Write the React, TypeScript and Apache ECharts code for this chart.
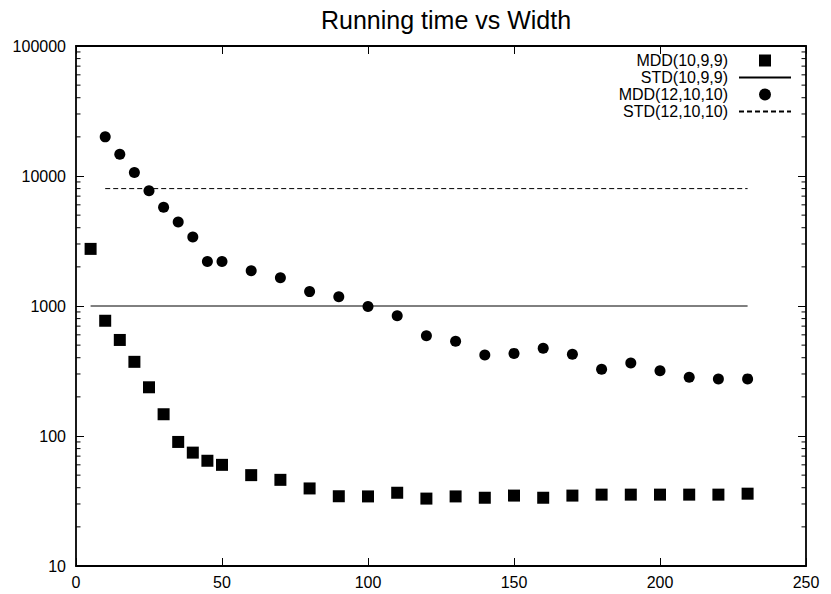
import React, { useEffect, useRef } from "react";
import * as echarts from "echarts";

// ---- data ----
const widthsA = [5, 10, 15, 20, 25, 30, 35, 40, 45, 50, 60, 70, 80, 90, 100, 110, 120, 130, 140, 150, 160, 170, 180, 190, 200, 210, 220, 230];
const mdd10_9_9 = [2750, 770, 548, 372, 237, 147, 90, 74.5, 64.5, 60, 50, 46, 39.5, 34.4, 34.3, 36.6, 33, 34.3, 33.5, 34.8, 33.5, 34.8, 35.4, 35.4, 35.4, 35.4, 35.4, 36];

const widthsB = [10, 15, 20, 25, 30, 35, 40, 45, 50, 60, 70, 80, 90, 100, 110, 120, 130, 140, 150, 160, 170, 180, 190, 200, 210, 220, 230];
const mdd12_10_10 = [20000, 14700, 10650, 7700, 5750, 4430, 3400, 2200, 2200, 1870, 1650, 1290, 1180, 990, 840, 590, 535, 420, 432, 473, 425, 326, 364, 318, 283, 274, 275];

const std10Range = [5, 230];
const std10Value = 1000;
const std12Range = [10, 230];
const std12Value = 8000;

const xTickLabels = ["0", "50", "100", "150", "200", "250"];
const yTickLabels = ["10", "100", "1000", "10000", "100000"];

const seriesNames = ["MDD(10,9,9)", "STD(10,9,9)", "MDD(12,10,10)", "STD(12,10,10)"];
const titleText = "Running time vs Width";

const FONT = '"Liberation Sans", Arial, Helvetica, sans-serif';

export default function App() {
  const ref = useRef<HTMLDivElement>(null);

  useEffect(() => {
    if (!ref.current) return;
    const chart = echarts.init(ref.current, undefined, { renderer: "svg" });

    const xMin = Number(xTickLabels[0]);
    const xMax = Number(xTickLabels[xTickLabels.length - 1]);
    const yMin = Number(yTickLabels[0]);
    const yMax = Number(yTickLabels[yTickLabels.length - 1]);

    // minor tick values for the log axis (2..9 x each decade)
    const minorTicks: number[][] = [];
    for (let d = yMin; d < yMax; d *= 10) {
      for (let k = 2; k <= 9; k++) minorTicks.push([xMin, d * k]);
    }

    const axisLine = { show: true, onZero: false, lineStyle: { color: "#000", width: 1.8 } };
    const majorTick = { show: true, inside: true, length: 8, lineStyle: { color: "#000", width: 1 } };

    const option: any = {
      animation: false,
      backgroundColor: "#fff",
      textStyle: { fontFamily: FONT },
      title: {
        text: titleText,
        left: 321,
        top: 7,
        padding: 0,
        textStyle: { fontFamily: FONT, fontSize: 25, fontWeight: "normal", color: "#000" },
      },
      legend: {
        orient: "vertical",
        right: 39,
        top: 52,
        padding: 0,
        align: "right",
        itemWidth: 52,
        itemHeight: 12,
        itemGap: 0,
        symbolKeepAspect: true,
        selectedMode: false,
        textStyle: { fontFamily: FONT, fontSize: 16, color: "#000", lineHeight: 17, padding: [0, 6, 0, 0] },
        data: [
          { name: seriesNames[0], icon: "path://M0,0L10,0L10,10L0,10Z", itemStyle: { color: "#000", opacity: 1 } },
          { name: seriesNames[1], itemStyle: { opacity: 0 } },
          { name: seriesNames[2], icon: "path://M5,0A5,5 0 1,1 5,10A5,5 0 1,1 5,0Z", itemStyle: { color: "#000", opacity: 1 } },
          { name: seriesNames[3], itemStyle: { opacity: 0 } },
        ],
      },
      grid: { left: 76, right: 25, top: 46, bottom: 28, containLabel: false, outerBoundsMode: "none" },
      xAxis: [
        {
          type: "value",
          min: xMin,
          max: xMax,
          interval: 50,
          axisLine,
          axisTick: majorTick,
          axisLabel: { show: true, margin: 8, color: "#000", fontSize: 16, fontFamily: FONT, formatter: (v: number) => String(v) },
          splitLine: { show: false },
        },
        {
          type: "value",
          position: "top",
          min: xMin,
          max: xMax,
          interval: 50,
          axisLine,
          axisTick: majorTick,
          axisLabel: { show: false },
          splitLine: { show: false },
        },
      ],
      yAxis: [
        {
          type: "log",
          logBase: 10,
          min: yMin,
          max: yMax,
          axisLine,
          axisTick: majorTick,
          axisLabel: { show: true, margin: 10, color: "#000", fontSize: 16, fontFamily: FONT, formatter: (v: number) => String(v) },
          splitLine: { show: false },
          minorTick: { show: false },
        },
        {
          type: "log",
          logBase: 10,
          position: "right",
          min: yMin,
          max: yMax,
          axisLine,
          axisTick: majorTick,
          axisLabel: { show: false },
          splitLine: { show: false },
        },
      ],
      series: [
        {
          name: seriesNames[0],
          type: "scatter",
          symbol: "rect",
          symbolSize: 12,
          itemStyle: { color: "#000", opacity: 1 },
          data: widthsA.map((w, i) => [w, mdd10_9_9[i]]),
          z: 3,
        },
        {
          name: seriesNames[1],
          type: "line",
          symbol: "none",
          showSymbol: false,
          lineStyle: { color: "#000", width: 1, type: "solid" },
          itemStyle: { color: "#000" },
          data: std10Range.map((w) => [w, std10Value]),
          z: 2,
        },
        {
          name: seriesNames[2],
          type: "scatter",
          symbol: "circle",
          symbolSize: 11,
          itemStyle: { color: "#000", opacity: 1 },
          data: widthsB.map((w, i) => [w, mdd12_10_10[i]]),
          z: 3,
        },
        {
          name: seriesNames[3],
          type: "line",
          symbol: "none",
          showSymbol: false,
          lineStyle: { color: "#000", width: 1, type: [5, 3] },
          itemStyle: { color: "#000" },
          data: std12Range.map((w) => [w, std12Value]),
          z: 2,
        },
        {
          name: "minorTicks",
          type: "custom",
          silent: true,
          clip: false,
          encode: { x: 0, y: 1 },
          data: minorTicks,
          renderItem: (params: any, api: any) => {
            const v = api.value(1);
            const pl = api.coord([xMin, v]);
            const pr = api.coord([xMax, v]);
            return {
              type: "group",
              children: [
                { type: "line", shape: { x1: pl[0], y1: pl[1], x2: pl[0] + 4.5, y2: pl[1] }, style: { stroke: "#000", lineWidth: 1 } },
                { type: "line", shape: { x1: pr[0] - 4.5, y1: pr[1], x2: pr[0], y2: pr[1] }, style: { stroke: "#000", lineWidth: 1 } },
              ],
            };
          },
          z: 1,
        },
      ],
    };

    chart.setOption(option);
    return () => chart.dispose();
  }, []);

  return (
    <div
      ref={ref}
      style={{ position: "absolute", left: 0, top: 0, width: 831, height: 594, background: "#fff" }}
    />
  );
}
